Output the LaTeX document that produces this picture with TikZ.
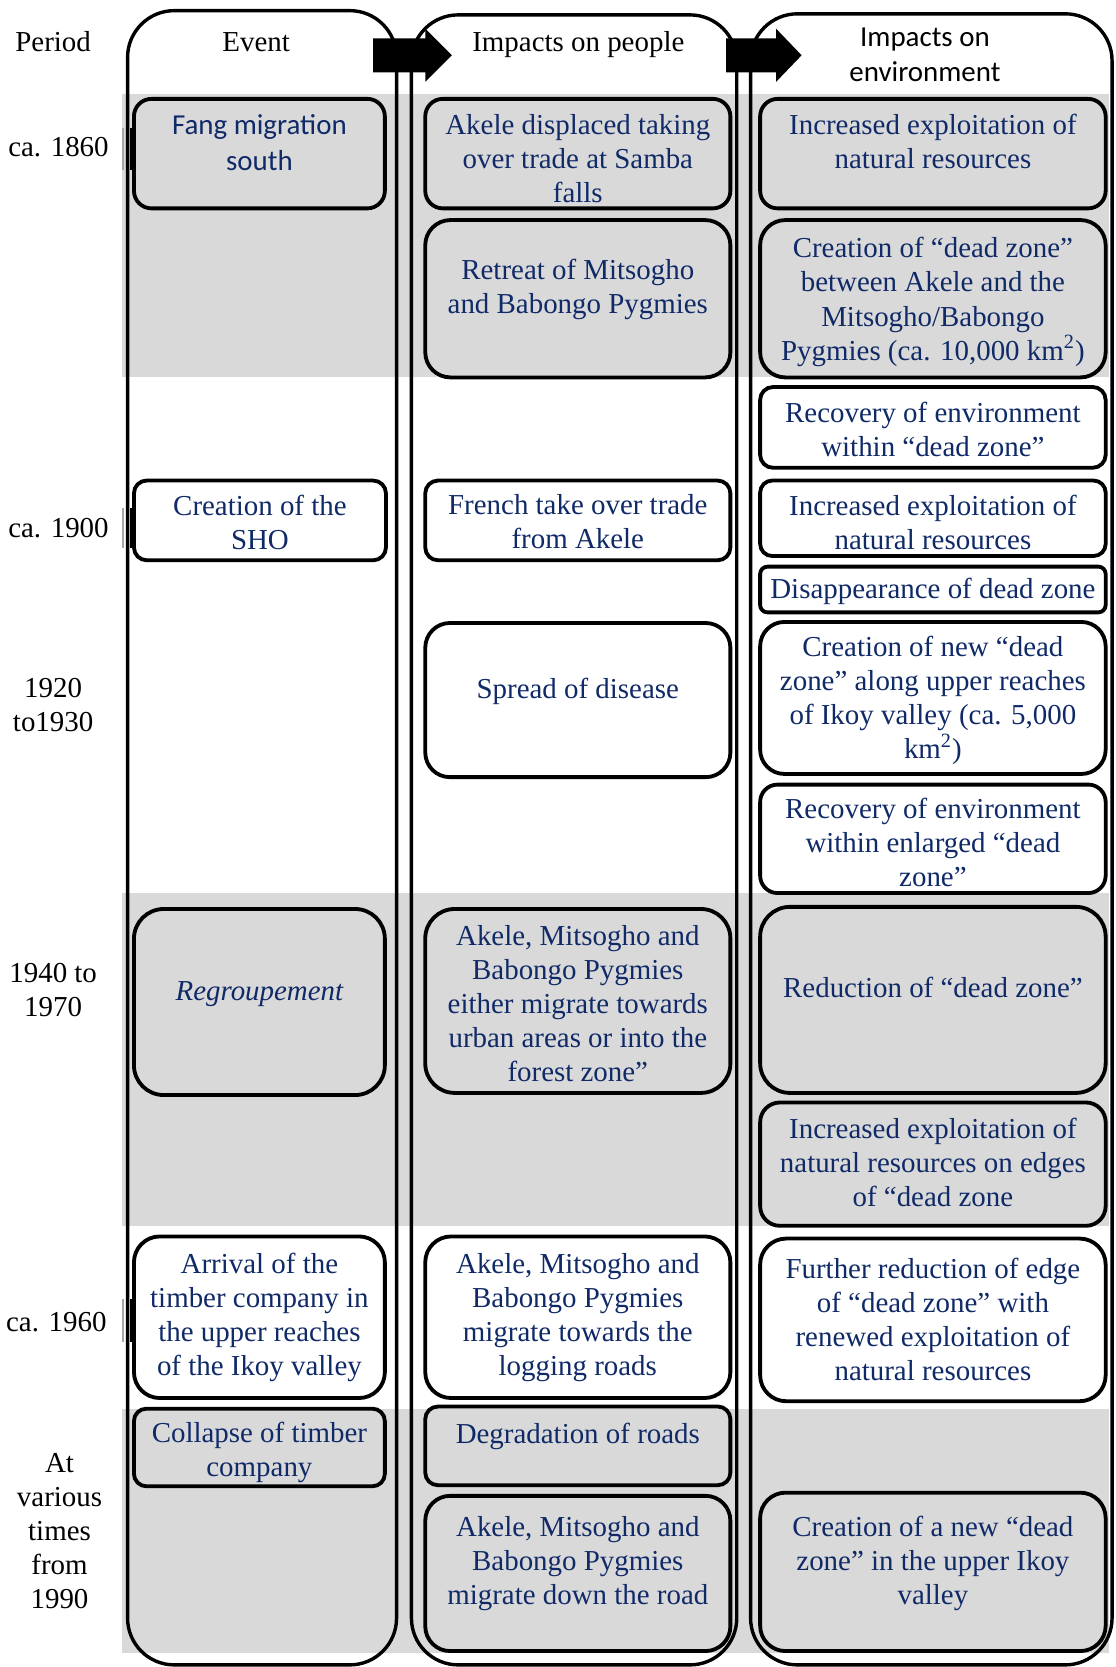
\documentclass[tikz,border=0pt]{standalone}
\usepackage{fontspec}
\setmainfont{Liberation Serif}
\newfontfamily\calfont{Carlito}
\usetikzlibrary{fit}
\definecolor{navy}{HTML}{102A68}
\definecolor{band}{HTML}{D9D9D9}
\newcommand\bx[9]{%
  \pgfmathsetmacro\rr{0.08*min(#4-#2,#5-#3)}%
  \node[#6, rounded corners=\rr pt, fit={(#2,#3) (#4,#5)}] (#1) {};
  \node[#8] (#1t) at ({(#2+#4)/2},#7) {#9};
}
\begin{document}
\begin{tikzpicture}[x=0.5pt, y={(0pt,-0.5pt)},
  colframe/.style={draw, line width=1.6pt, rounded corners=22pt, inner sep=0pt},
  gbox/.style={draw, line width=1.8pt, fill=band, inner sep=0pt},
  wbox/.style={draw, line width=1.8pt, fill=white, inner sep=0pt},
  txt/.style={text=navy, align=center, inner sep=0pt, font=\fontsize{13.6}{16}\selectfont},
  cal/.style={txt, font=\calfont\fontsize{13.6}{17}\selectfont},
  itx/.style={txt, font=\itshape\fontsize{13.6}{16}\selectfont},
  per/.style={text=black, align=center, inner sep=0pt, font=\fontsize{13.6}{16}\selectfont},
  hcal/.style={per, font=\calfont\fontsize{13.6}{16.5}\selectfont}]
\useasboundingbox (0,0) rectangle (1049,1568);
\fill[white] (0,0) rectangle (1049,1568);
% grey bands
\fill[band] (115,88) rectangle (1043,355);
\fill[band] (115,840) rectangle (1043,1153);
\fill[band] (115,1325) rectangle (1043,1555);
% columns
\node[colframe, fit={(120,10) (373,1566)}] (colE) {};
\node[colframe, fit={(387,14) (693,1566)}] (colP) {};
\node[colframe, fit={(706,13) (1046,1566)}] (colV) {};
% header arrows
\fill (351,36) -- (400,36) -- (400,27) -- (425,52) -- (400,77) -- (400,68) -- (351,68) -- cycle;
\fill (683,36) -- (730,36) -- (730,27) -- (754,52) -- (730,77) -- (730,68) -- (683,68) -- cycle;
% period marks
\foreach \ya/\yb in {120/160, 478/515, 1222/1262} {
  \draw[black!35, line width=1pt] (116,\ya) -- (116,\yb);
  \draw[line width=1.2pt] (123.5,\ya) -- (123.5,\yb);
}
% headers
\node[per] (hP) at (50,39) {Period};
\node[per] (hE) at (241,40) {Event};
\node[per] (hI) at (544,42) {Impacts on people};
\node[hcal] (hV) at (870,52) {Impacts on\\environment};
% period labels
\node[per] (p1) at (55,138) {ca. 1860};
\node[per] (p2) at (55,497) {ca. 1900};
\node[per] (p3) at (50,663) {1920\\to1930};
\node[per] (p4) at (50,931) {1940 to\\1970};
\node[per] (p5) at (53,1244) {ca. 1960};
\node[per] (p6) at (56,1440) {At\\various\\times\\from\\1990};
% event boxes
\bx{E1}{126}{93}{362}{196}{gbox}{134}{cal}{Fang migration\\south}
\bx{E2}{126}{452}{363}{527}{wbox}{491}{txt}{Creation of the\\SHO}
\bx{E3}{126}{855}{362}{1030}{gbox}{935}{itx}{Regroupement}
\bx{E4}{126}{1163}{362}{1315}{wbox}{1239}{txt}{Arrival of the\\timber company in\\the upper reaches\\of the Ikoy valley}
\bx{E5}{126}{1325}{362}{1398}{gbox}{1366}{txt}{Collapse of timber\\company}
% people boxes
\bx{P1}{400}{93}{687}{196}{gbox}{149.5}{txt}{Akele displaced taking\\over trade at Samba\\falls}
\bx{P2}{400}{207}{687}{355}{gbox}{272}{txt}{Retreat of Mitsogho\\and Babongo Pygmies}
\bx{P3}{400}{452}{687}{527}{wbox}{491}{txt}{French take over trade\\from Akele}
\bx{P4}{400}{586}{687}{731}{wbox}{650}{txt}{Spread of disease}
\bx{P5}{400}{855}{687}{1028}{gbox}{944}{txt}{Akele, Mitsogho and\\Babongo Pygmies\\either migrate towards\\urban areas or into the\\forest zone”}
\bx{P6}{400}{1163}{687}{1315}{wbox}{1239.5}{txt}{Akele, Mitsogho and\\Babongo Pygmies\\migrate towards the\\logging roads}
\bx{P7}{400}{1323}{687}{1397}{gbox}{1351}{txt}{Degradation of roads}
\bx{P8}{400}{1407}{687}{1553}{gbox}{1471}{txt}{Akele, Mitsogho and\\Babongo Pygmies\\migrate down the road}
% environment boxes
\bx{V1}{715}{93}{1040}{196}{gbox}{133}{txt}{Increased exploitation of\\natural resources}
\bx{V2}{715}{207}{1040}{355}{gbox}{284}{txt}{Creation of “dead zone”\\between Akele and the\\Mitsogho/Babongo\\Pygmies (ca. 10,000 km\textsuperscript{2})}
\bx{V3}{715}{364}{1040}{440}{wbox}{403.5}{txt}{Recovery of environment\\within “dead zone”}
\bx{V4}{715}{452}{1040}{523}{wbox}{491}{txt}{Increased exploitation of\\natural resources}
\bx{V5}{715}{533}{1040}{576}{wbox}{556}{txt}{Disappearance of dead zone}
\bx{V6}{715}{585}{1040}{728}{wbox}{658.5}{txt}{Creation of new “dead\\zone” along upper reaches\\of Ikoy valley (ca. 5,000\\km\textsuperscript{2})}
\bx{V7}{715}{738}{1040}{840}{wbox}{792.5}{txt}{Recovery of environment\\within enlarged “dead\\zone”}
\bx{V8}{715}{853}{1040}{1028}{gbox}{929}{txt}{Reduction of “dead zone”}
\bx{V9}{715}{1037}{1040}{1153}{gbox}{1093.5}{txt}{Increased exploitation of\\natural resources on edges\\of “dead zone}
\bx{V10}{715}{1165}{1040}{1318}{wbox}{1241}{txt}{Further reduction of edge\\of “dead zone” with\\renewed exploitation of\\natural resources}
\bx{V11}{715}{1404}{1040}{1553}{gbox}{1471}{txt}{Creation of a new “dead\\zone” in the upper Ikoy\\valley}
\end{tikzpicture}
\end{document}
